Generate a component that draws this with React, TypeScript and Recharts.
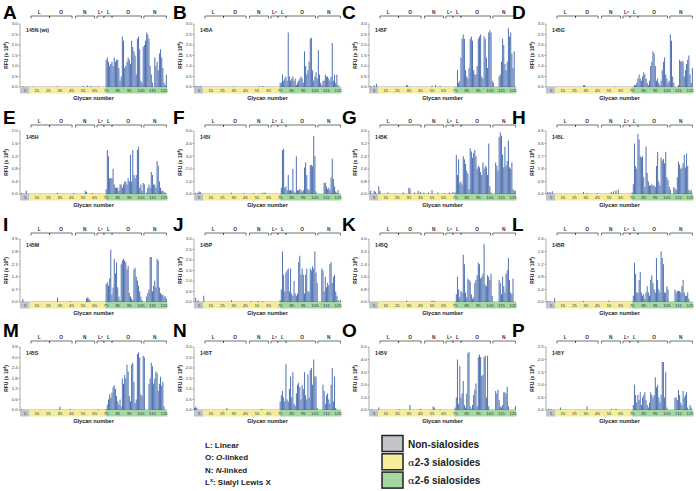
import React from 'react';
import { BarChart, Bar, XAxis, YAxis } from 'recharts';

// glycan numbers on the array
const glycans = Array.from({ length: 127 }, (_, i) => i + 1);
const xTickLabels = [5, 15, 25, 35, 45, 55, 65, 75, 85, 95, 105, 115, 125];

// y axis tick sets (RFU x 10^4)
const yTicks30 = [0, 0.5, 1, 1.5, 2, 2.5, 3];
const yTicks20 = [0, 0.4, 0.8, 1.2, 1.6, 2.0];
const yTicks50 = [0, 1, 2, 3, 4, 5];
const yTicks40 = [0, 0.8, 1.6, 2.4, 3.2, 4.0];
const yTicks45 = [0, 0.9, 1.8, 2.7, 3.6, 4.5];
const yTicks35 = [0, 0.7, 1.4, 2.1, 2.8, 3.5];
const yTicks36 = [0, 0.6, 1.2, 1.8, 2.4, 3.0, 3.6];
const yTicks25 = [0, 0.5, 1, 1.5, 2, 2.5];

// small signals on glycans 1-74, as [glycan, RFU]
const lowA = [[3, 0.03], [12, 0.02], [33, 0.03], [55, 0.05], [59, 0.07], [62, 0.05], [68, 0.03]];
const lowB = [[2, 0.05], [4, 0.05], [6, 0.06], [35, 0.03], [57, 0.04], [60, 0.05]];
const lowC = [[2, 0.05], [5, 0.08], [7, 0.15], [33, 0.1], [34, 0.08], [55, 0.06], [58, 0.08], [62, 0.05]];
const lowD = [[33, 0.08], [34, 0.1], [60, 0.02]];
const lowE = [[2, 0.03], [6, 0.1], [33, 0.04], [47, 0.03], [57, 0.1], [58, 0.06], [63, 0.03]];
const lowF = [[2, 0.05], [4, 0.1], [5, 0.2], [6, 0.15], [33, 0.1], [44, 0.05], [52, 0.06], [60, 0.1], [62, 0.12]];
const lowG = [[2, 0.2], [5, 0.2], [6, 0.15], [9, 0.5], [10, 0.2], [17, 0.1], [23, 0.05], [30, 0.1], [35, 0.4], [36, 0.35], [40, 0.1], [43, 0.2], [45, 0.15], [48, 0.1], [52, 0.1], [55, 0.25], [60, 0.1], [66, 0.05], [70, 0.1], [73, 0.15]];
const lowH = [[2, 0.15], [4, 0.15], [6, 0.2], [33, 0.15], [36, 0.08], [45, 0.05], [57, 0.15], [59, 0.2], [61, 0.25], [63, 0.3]];
const lowI = [[3, 0.15], [33, 0.25], [44, 0.05], [58, 0.2], [59, 0.25], [60, 0.2], [61, 0.1]];
const lowJ = [[2, 0.2], [4, 0.08], [9, 0.3], [33, 0.08], [50, 0.05], [56, 0.05], [60, 0.05]];
const lowK = [[33, 0.1], [55, 0.1], [57, 0.08]];
const lowL = [[2, 0.03], [4, 0.03], [8, 0.12], [33, 0.03], [55, 0.05]];
const lowM = [[2, 0.05], [35, 0.2], [44, 0.05], [68, 0.05]];
const lowN = [[1, 0.1], [2, 0.15], [3, 0.1], [29, 0.1], [59, 0.05]];
const lowO = [[3, 0.05], [9, 0.2], [27, 0.05], [36, 0.4], [45, 0.08], [56, 0.3], [57, 0.2], [62, 0.05]];
const lowP = [[3, 0.05], [5, 0.03], [13, 0.1], [36, 0.15], [57, 0.05], [61, 0.04]];

// glycans 75-127
const highA = [1.3, 1.4, 1.2, 1.0, 1.1, 1.2, 1.0, 1.4, 1.2, 1.3, 1.3, 0.9, 0.3, 0.5, 2.4, 2.2, 0.9, 1.0, 1.2, 1.4, 1.3, 1.1, 2.2, 1.9, 1.7, 1.5, 0.6, 2.3, 2.4, 1.8, 0.3, 0.2, 1.9, 2.0, 2.2, 2.6, 2.5, 2.3, 1.0, 0.6, 0.2, 0.0, 1.4, 1.0, 1.2, 0.8, 1.6, 1.8, 1.4, 0.9, 0.2, 0.1, 0.6];
const highB = [0.2, 0.2, 0.6, 0.3, 0.4, 0.5, 0.3, 2.6, 0.5, 0.3, 0.4, 0.5, 0.3, 0.4, 0.1, 0.2, 0.3, 0.4, 0.5, 0.4, 0.2, 1.7, 1.0, 0.6, 0.8, 1.2, 2.3, 2.35, 0.8, 0.3, 0.5, 0.7, 0.4, 1.75, 0.6, 0.2, 0.1, 0.3, 0.3, 0.6, 0.5, 0.5, 0.4, 0.3, 0.5, 2.1, 0.3, 0.6, 0.2, 0.6, 0.1, 0.0, 0.0];
const highC = [0.0, 0.0, 0.8, 0.2, 0.3, 1.4, 2.3, 2.5, 2.3, 0.8, 0.5, 0.4, 0.9, 2.3, 2.4, 2.2, 0.8, 0.6, 0.6, 1.0, 2.3, 2.4, 2.5, 0.5, 0.4, 2.4, 2.3, 1.4, 0.9, 2.6, 2.7, 2.6, 0.3, 0.2, 0.0, 0.0, 0.0, 0.0, 0.5, 0.6, 1.2, 2.3, 2.0, 1.1, 0.8, 1.2, 2.8, 2.4, 2.6, 1.6, 0.9, 1.7, 0.0];
const highD = [0.0, 0.0, 0.1, 0.1, 0.2, 0.4, 0.6, 0.4, 0.3, 0.5, 0.7, 0.6, 0.4, 0.2, 0.1, 0.3, 1.0, 1.2, 1.7, 1.6, 1.0, 0.3, 0.4, 0.2, 0.1, 0.3, 0.8, 1.2, 1.4, 0.6, 0.4, 0.2, 0.3, 2.5, 2.2, 0.5, 0.2, 0.0, 0.0, 0.0, 0.1, 1.3, 1.2, 1.25, 1.2, 0.5, 0.8, 1.1, 1.3, 1.5, 0.6, 0.2, 0.9];
const highE = [0.15, 1.4, 1.2, 0.5, 0.5, 0.5, 0.8, 0.3, 0.2, 0.2, 0.2, 0.1, 0.3, 0.3, 0.2, 0.3, 0.4, 0.4, 0.3, 0.5, 0.4, 1.25, 0.4, 1.4, 0.6, 0.5, 0.6, 1.4, 1.5, 0.2, 0.3, 0.1, 0.35, 0.3, 0.0, 0.05, 0.2, 0.3, 0.2, 0.7, 0.6, 0.3, 0.3, 0.2, 1.05, 0.9, 0.4, 0.2, 0.1, 0.1, 0.05, 0.05, 0.0];
const highF = [0.0, 0.5, 3.5, 3.6, 0.5, 0.6, 0.3, 1.5, 0.3, 0.3, 0.3, 2.0, 0.2, 0.1, 3.0, 0.3, 0.3, 0.4, 0.3, 0.2, 0.3, 2.1, 2.5, 1.5, 0.4, 0.3, 2.3, 2.3, 2.2, 4.6, 3.0, 0.2, 0.0, 0.0, 0.0, 0.0, 0.0, 0.0, 0.9, 0.9, 0.6, 0.4, 0.5, 0.3, 1.3, 2.8, 1.2, 0.6, 0.2, 0.1, 0.3, 0.0, 0.0];
const highG = [0.1, 2.5, 1.2, 2.2, 0.7, 0.8, 0.6, 2.4, 2.2, 1.9, 1.5, 1.3, 0.3, 2.9, 2.7, 2.3, 2.6, 2.8, 2.4, 1.6, 1.8, 1.7, 1.4, 1.2, 2.0, 1.6, 1.8, 1.7, 1.2, 3.2, 0.5, 0.1, 0.0, 0.0, 0.0, 2.0, 1.8, 1.5, 3.6, 3.9, 3.7, 2.5, 1.7, 3.0, 1.8, 2.1, 3.4, 1.7, 1.6, 2.0, 0.3, 0.2, 0.2];
const highH = [0.1, 0.7, 3.6, 2.0, 1.8, 4.3, 3.9, 2.7, 2.6, 2.7, 1.2, 0.5, 3.4, 1.5, 0.9, 0.6, 0.6, 0.7, 0.6, 0.6, 0.5, 2.0, 3.0, 0.9, 0.6, 2.6, 2.4, 2.5, 2.2, 3.0, 1.2, 1.0, 0.5, 0.3, 0.0, 0.0, 0.5, 0.4, 0.3, 1.2, 2.3, 2.1, 1.8, 1.9, 2.2, 2.8, 1.9, 2.9, 2.0, 0.3, 0.2, 0.3, 0.0];
const highI = [1.0, 1.1, 0.9, 1.3, 2.9, 0.4, 0.8, 2.4, 1.6, 2.2, 0.8, 0.3, 0.1, 2.1, 2.3, 2.4, 2.3, 2.2, 1.8, 2.0, 0.5, 0.3, 0.2, 0.1, 1.8, 1.9, 1.4, 1.2, 0.9, 0.6, 0.3, 0.1, 0.0, 0.0, 0.0, 0.3, 0.5, 0.7, 2.5, 2.5, 0.6, 0.9, 1.2, 0.8, 2.4, 2.3, 0.8, 0.5, 0.4, 0.4, 0.3, 0.3, 0.2];
const highJ = [0.1, 0.6, 2.4, 1.3, 0.5, 1.4, 1.5, 1.6, 0.5, 1.6, 0.4, 0.3, 1.0, 0.4, 0.3, 0.4, 1.9, 2.2, 1.3, 1.6, 1.3, 0.4, 1.3, 1.6, 0.5, 0.5, 1.6, 1.5, 1.7, 1.6, 2.4, 1.4, 0.9, 0.0, 0.0, 0.0, 1.6, 1.5, 0.5, 1.2, 0.7, 0.9, 0.8, 1.8, 1.9, 0.9, 1.2, 1.3, 0.5, 0.3, 0.1, 0.0, 0.1];
const highK = [0.0, 0.5, 1.6, 0.8, 0.3, 0.7, 0.6, 3.0, 2.4, 0.6, 0.3, 1.5, 1.4, 1.3, 0.5, 0.2, 0.3, 1.2, 1.4, 1.7, 2.5, 2.4, 1.5, 1.6, 1.8, 3.7, 1.1, 1.0, 1.7, 1.6, 1.4, 1.8, 0.4, 0.0, 0.0, 0.0, 0.0, 0.0, 1.4, 1.2, 0.5, 1.6, 1.0, 0.6, 1.8, 2.0, 2.8, 1.4, 0.6, 0.5, 1.5, 0.0, 0.0];
const highL = [0.0, 0.2, 1.25, 0.9, 0.3, 0.3, 0.7, 0.95, 0.3, 0.2, 0.25, 0.1, 0.3, 0.5, 0.3, 0.2, 0.7, 0.85, 0.6, 0.4, 0.3, 1.4, 0.7, 0.4, 0.3, 1.6, 1.4, 1.2, 0.3, 0.3, 0.5, 0.4, 0.0, 0.0, 0.0, 0.0, 0.0, 0.4, 0.3, 0.35, 0.35, 0.35, 0.3, 0.5, 0.7, 0.3, 0.2, 0.2, 0.3, 0.1, 0.0, 0.0, 0.0];
const highM = [0.05, 0.3, 0.6, 0.9, 0.7, 1.0, 1.3, 1.4, 1.2, 0.8, 0.5, 0.3, 0.6, 0.2, 1.8, 1.5, 2.0, 1.8, 2.6, 2.2, 0.8, 0.5, 2.6, 2.7, 1.6, 0.4, 0.6, 3.2, 3.3, 3.0, 0.9, 0.8, 3.1, 3.0, 0.0, 0.0, 0.0, 1.5, 1.8, 2.7, 2.5, 1.5, 1.8, 2.2, 2.1, 1.1, 1.5, 1.9, 1.4, 1.6, 0.2, 0.0, 0.0];
const highN = [0.4, 0.7, 0.9, 0.6, 0.4, 2.2, 0.5, 0.4, 1.0, 1.6, 0.6, 1.8, 0.3, 0.2, 0.8, 1.2, 1.3, 1.1, 0.5, 1.2, 1.0, 1.8, 0.7, 0.5, 1.7, 0.6, 1.9, 2.0, 1.2, 2.4, 1.6, 1.6, 0.1, 0.0, 0.0, 0.0, 0.0, 1.2, 0.9, 0.3, 0.7, 0.8, 0.5, 0.3, 1.2, 2.0, 0.4, 1.6, 0.1, 0.0, 0.0, 0.0, 0.0];
const highO = [0.2, 1.0, 4.0, 0.5, 3.5, 1.0, 1.3, 2.3, 0.4, 0.2, 1.3, 4.5, 4.6, 0.3, 0.1, 0.4, 1.2, 1.6, 2.1, 0.3, 4.2, 4.4, 4.2, 2.7, 2.8, 4.2, 4.3, 1.0, 4.3, 0.3, 0.0, 0.0, 0.0, 0.0, 0.0, 1.5, 1.3, 1.6, 0.8, 0.3, 0.2, 0.4, 1.4, 1.4, 1.3, 1.85, 0.3, 0.0, 0.0, 0.0, 0.0, 0.0, 0.3];
const highP = [0.0, 0.2, 1.0, 0.6, 0.3, 0.6, 0.4, 0.7, 0.2, 0.5, 0.6, 0.7, 0.4, 0.2, 0.1, 0.3, 0.7, 0.6, 0.5, 0.6, 1.3, 0.9, 1.0, 0.5, 0.3, 0.6, 1.9, 1.9, 0.5, 1.5, 0.1, 0.0, 0.0, 0.0, 0.0, 0.0, 0.0, 0.5, 0.5, 0.4, 0.8, 0.6, 0.3, 0.2, 0.75, 0.5, 0.6, 0.7, 0.1, 0.0, 0.2, 0.1, 0.0];

const panels = [
  { letter: 'A', mutant: '145N (wt)', low: lowA, high: highA, yTicks: yTicks30 },
  { letter: 'B', mutant: '145A', low: lowB, high: highB, yTicks: yTicks30 },
  { letter: 'C', mutant: '145F', low: lowC, high: highC, yTicks: yTicks30 },
  { letter: 'D', mutant: '145G', low: lowD, high: highD, yTicks: yTicks30 },
  { letter: 'E', mutant: '145H', low: lowE, high: highE, yTicks: yTicks20 },
  { letter: 'F', mutant: '145I', low: lowF, high: highF, yTicks: yTicks50 },
  { letter: 'G', mutant: '145K', low: lowG, high: highG, yTicks: yTicks40 },
  { letter: 'H', mutant: '145L', low: lowH, high: highH, yTicks: yTicks45 },
  { letter: 'I', mutant: '145M', low: lowI, high: highI, yTicks: yTicks35 },
  { letter: 'J', mutant: '145P', low: lowJ, high: highJ, yTicks: yTicks30 },
  { letter: 'K', mutant: '145Q', low: lowK, high: highK, yTicks: yTicks40 },
  { letter: 'L', mutant: '145R', low: lowL, high: highL, yTicks: yTicks20 },
  { letter: 'M', mutant: '145S', low: lowM, high: highM, yTicks: yTicks36 },
  { letter: 'N', mutant: '145T', low: lowN, high: highN, yTicks: yTicks30 },
  { letter: 'O', mutant: '145V', low: lowO, high: highO, yTicks: yTicks50 },
  { letter: 'P', mutant: '145Y', low: lowP, high: highP, yTicks: yTicks25 },
];

// glycan classes shown in the strip under the x axis
const strip = [
  { from: 1, to: 8, color: '#c3c4ca' },
  { from: 9, to: 74, color: '#f4ee9c' },
  { from: 75, to: 127, color: '#a3d8a1' },
];

// structure brackets above each plot
const brackets = [
  { from: 10, to: 45.5, labels: [['L', 17], ['O', 36]], marks: [26] },
  { from: 48.5, to: 65, labels: [['N', 56.5]], marks: [] },
  { from: 67, to: 105.5, labels: [['Lx', 70], ['L', 77], ['O', 94]], marks: [73, 80] },
  { from: 107.5, to: 127, labels: [['N', 117]], marks: [] },
];

const FONT = '"Liberation Sans", Arial, Helvetica, sans-serif';
const BAR = '#4f71b2';
const PW = 147;
const PH = 63;
const BW = PW / glycans.length;
const colLeft = [20, 194, 369, 546];
const rowTop = [24, 131, 239, 347];
const bracketY = [16, 125, 233, 341];
const letterX = [3, 173, 342, 512];
const letterTop = [5, 110, 217, 323];

function buildData(low: number[][], high: number[]) {
  const rows = glycans.map((g) => ({ g, v: 0 }));
  low.forEach(([g, v]) => { rows[g - 1].v = v; });
  high.forEach((v, i) => { rows[74 + i].v = v; });
  return rows;
}

function StripTick(props: any) {
  const { x, y, payload } = props;
  const g = payload.value;
  return (
    <g>
      {g === 1 &&
        strip.map((s) => (
          <rect key={s.from} x={x - BW / 2 + (s.from - 1) * BW} y={y} width={(s.to - s.from + 1) * BW + 0.2} height={6.5} fill={s.color} />
        ))}
      {xTickLabels.includes(g) && (
        <text x={x} y={y + 4.8} textAnchor="middle" fontSize={4.3} fill="#333" fontFamily={FONT}>{g}</text>
      )}
    </g>
  );
}

function Panel({ p, idx }: { p: any; idx: number }) {
  const col = idx % 4;
  const row = Math.floor(idx / 4);
  const data = buildData(p.low, p.high);
  const max = p.yTicks[p.yTicks.length - 1];
  return (
    <div style={{ position: 'absolute', left: colLeft[col] - 20, top: rowTop[row] - 4 }}>
      <BarChart width={168} height={87} data={data} margin={{ top: 4, right: 1, bottom: 0, left: 6 }} barCategoryGap={0} barGap={0}>
        <XAxis dataKey="g" interval={0} tickLine={false} tickSize={0} tickMargin={0} height={20}
          axisLine={{ stroke: '#555', strokeWidth: 0.5 }} tick={(t: any) => <StripTick {...t} />} />
        <YAxis width={14} domain={[0, max]} ticks={p.yTicks} interval={0} tickSize={1.5} tickMargin={0.8}
          axisLine={{ stroke: '#555', strokeWidth: 0.5 }} tickLine={{ stroke: '#555', strokeWidth: 0.5 }}
          tick={{ fontSize: 4.2, fill: '#333', fontFamily: FONT }} tickFormatter={(v: number) => v.toFixed(1)} />
        <Bar dataKey="v" fill={BAR} isAnimationActive={false} />
      </BarChart>
    </div>
  );
}

function Annotations({ p, idx }: { p: any; idx: number }) {
  const col = idx % 4;
  const row = Math.floor(idx / 4);
  const left = colLeft[col];
  const top = rowTop[row];
  const by = bracketY[row];
  const gx = (g: number) => left + (g - 0.5) * BW;
  return (
    <g fontFamily={FONT}>
      <text x={letterX[col]} y={letterTop[row] + 13.5} fontSize={19} fontWeight={700} fill="#000">{p.letter}</text>
      {brackets.map((b, i) => (
        <g key={i} stroke="#333" strokeWidth={0.7} fill="none">
          <polyline points={`${gx(b.from)},${by + 2.5} ${gx(b.from)},${by} ${gx(b.to)},${by} ${gx(b.to)},${by + 2.5}`} />
          {b.marks.map((m) => <line key={m} x1={gx(m)} x2={gx(m)} y1={by} y2={by + 1.8} strokeWidth={1} />)}
          {b.labels.map(([t, g]: any) => (
            <text key={t + g} x={gx(g)} y={by - 1.8} textAnchor="middle" fontSize={4.8} fontWeight={700} fill="#333" stroke="none">
              {t === 'Lx' ? <>L<tspan fontSize={3.2} dy={-1.6}>x</tspan></> : t}
            </text>
          ))}
        </g>
      ))}
      <text x={left + 6} y={top + 8} fontSize={5.2} fontWeight={700} fill="#222">{p.mutant}</text>
      <text transform={`translate(${left - 12.5},${top + PH / 2}) rotate(-90)`} textAnchor="middle" fontSize={5} fontWeight={700} fill="#222">
        RFU (x 10<tspan fontSize={3.4} dy={-1.6}>4</tspan><tspan dy={1.6}>)</tspan>
      </text>
      <text x={left + PW / 2} y={top + PH + 12.8} textAnchor="middle" fontSize={5.6} fontWeight={700} fill="#222">Glycan number</text>
    </g>
  );
}

const legendKeys = [
  { color: '#c3c4ca', label: 'Non-sialosides' },
  { color: '#f4ee9c', label: '2-3 sialosides', alpha: true },
  { color: '#a3d8a1', label: '2-6 sialosides', alpha: true },
];

export default function App() {
  return (
    <div style={{ position: 'absolute', left: 0, top: 0, width: 696, height: 491, background: '#fff', overflow: 'hidden' }}>
      {panels.map((p, i) => <Panel key={p.letter} p={p} idx={i} />)}
      <svg width={696} height={491} style={{ position: 'absolute', left: 0, top: 0 }}>
        {panels.map((p, i) => <Annotations key={p.letter} p={p} idx={i} />)}
        <g fontFamily={FONT} fontWeight={700} fontSize={8} fill="#222">
          <text x={205} y={447.5}>L: Linear</text>
          <text x={205} y={460}>O: <tspan fontStyle="italic">O</tspan>-linked</text>
          <text x={205} y={472.5}>N: <tspan fontStyle="italic">N</tspan>-linked</text>
          <text x={205} y={484.5}>L<tspan fontSize={5.5} dy={-3}>x</tspan><tspan dy={3}>: Sialyl Lewis X</tspan></text>
        </g>
        {legendKeys.map((k, i) => (
          <g key={k.label}>
            <rect x={382} y={435.5 + i * 18.3} width={21} height={16} fill={k.color} stroke="#222" strokeWidth={1.5} />
            <text x={408} y={447.5 + i * 18.3} fontFamily={FONT} fontWeight={700} fontSize={10} fill="#222">
              {k.alpha && <tspan fontFamily="'DejaVu Serif', serif" fontWeight={400}>α</tspan>}{k.label}
            </text>
          </g>
        ))}
      </svg>
    </div>
  );
}
